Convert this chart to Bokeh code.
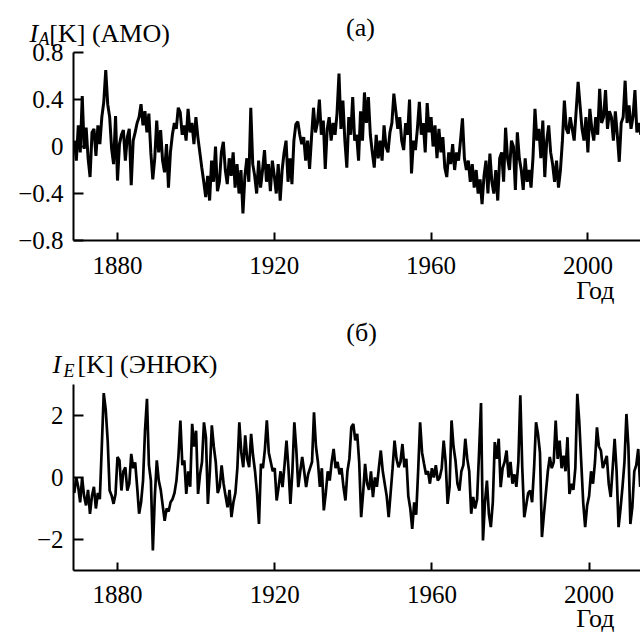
from bokeh.plotting import figure
from bokeh.layouts import column
from bokeh.models import Range1d, FixedTicker, CustomJSTickFormatter, Label, LinearAxis
from bokeh.embed import file_html
from bokeh.resources import INLINE

# ---------------- data (half-year samples) ----------------
start_year = 1869.0
step = 0.5

amo = [
    0.05, -0.12, 0.18, -0.05, 0.43, -0.02, 0.16, -0.10, -0.26, 0.12,      # 1869-1873
    0.15, -0.08, 0.18, 0.02, 0.25, 0.38, 0.65, 0.36, 0.25, -0.02,         # 1874-1878
    -0.15, 0.26, -0.29, 0.02, 0.10, 0.14, -0.12, 0.08, 0.15, -0.33,       # 1879-1883
    0.05, 0.12, 0.20, 0.25, 0.36, 0.18, 0.30, 0.12, 0.28, -0.05,          # 1884-1888
    -0.28, -0.10, 0.22, -0.05, 0.14, -0.12, -0.22, 0.02, -0.35, -0.05,    # 1889-1893
    0.10, 0.20, 0.15, 0.33, 0.29, 0.10, 0.18, 0.05, 0.32, 0.12,           # 1894-1898
    0.20, 0.02, 0.25, 0.08, -0.05, -0.18, -0.30, -0.43, -0.25, -0.46,     # 1899-1903
    -0.12, -0.30, 0.00, -0.38, -0.30, -0.05, 0.04, -0.20, -0.32, -0.10,   # 1904-1908
    -0.25, -0.05, -0.35, -0.15, -0.40, -0.20, -0.57, -0.25, -0.10, -0.30, # 1909-1913
    0.33, -0.15, -0.25, -0.40, -0.12, -0.35, -0.20, -0.03, -0.30, -0.15,  # 1914-1918
    -0.38, -0.12, -0.25, -0.40, -0.15, -0.46, -0.20, -0.05, 0.05, -0.30,  # 1919-1923
    -0.10, -0.32, 0.05, 0.19, 0.21, 0.10, 0.02, 0.08, -0.12, 0.05,        # 1924-1928
    -0.19, 0.08, 0.33, 0.12, 0.20, 0.40, 0.10, 0.22, -0.19, 0.15,         # 1929-1933
    0.25, 0.05, 0.20, 0.10, 0.28, 0.62, 0.15, 0.39, 0.05, -0.18,          # 1934-1938
    0.25, 0.10, 0.42, 0.05, 0.10, -0.12, 0.30, 0.05, 0.46, 0.20,          # 1939-1943
    0.42, 0.10, -0.05, -0.18, 0.10, -0.10, 0.05, -0.12, 0.18, 0.00,       # 1944-1948
    -0.05, 0.12, 0.20, 0.45, 0.30, 0.15, 0.25, 0.05, -0.03, 0.20,         # 1949-1953
    0.10, 0.40, -0.23, 0.05, -0.03, 0.15, 0.38, 0.10, 0.20, -0.05,        # 1954-1958
    0.37, 0.12, 0.25, 0.00, 0.18, -0.10, 0.15, -0.05, 0.08, -0.18,        # 1959-1963
    -0.26, -0.05, -0.15, 0.02, -0.20, -0.05, -0.12, 0.05, 0.24, -0.10,    # 1964-1968
    -0.20, -0.12, -0.30, -0.15, -0.35, -0.20, -0.40, -0.28, -0.49, -0.25, # 1969-1973
    -0.12, -0.40, -0.06, -0.30, -0.40, -0.20, -0.46, -0.10, -0.05, -0.30, # 1974-1978
    0.16, -0.10, -0.20, 0.05, 0.00, -0.37, 0.12, -0.10, -0.20, -0.37,     # 1979-1983
    -0.10, -0.30, -0.20, -0.35, -0.09, 0.32, 0.05, 0.15, -0.10, 0.22,     # 1984-1988
    -0.26, 0.05, 0.18, -0.05, -0.15, -0.30, -0.12, -0.35, -0.20, 0.05,    # 1989-1993
    0.39, 0.15, 0.11, 0.25, 0.15, 0.05, 0.30, 0.55, 0.35, 0.15,           # 1994-1998
    0.05, 0.25, -0.05, 0.32, 0.15, 0.05, 0.25, 0.10, 0.49, 0.20,          # 1999-2003
    0.25, 0.48, 0.15, 0.30, 0.25, 0.05, 0.30, 0.10, -0.13, 0.20,          # 2004-2008
    0.25, 0.56, 0.20, 0.35, 0.15, 0.25, 0.48, 0.12, 0.20, 0.10,           # 2009-2013
]

enso = [
    -0.50, 0.00, -0.30, -0.80, 0.00, -0.60, -0.90, -0.40, -1.17, -0.60,   # 1869-1873
    -0.30, -1.00, -0.50, -0.70, 0.98, 2.72, 2.20, 1.20, -0.42, -0.58,     # 1874-1878
    -0.85, -0.53, 0.66, 0.55, -0.42, 0.20, 0.33, -0.42, -0.20, 0.76,      # 1879-1883
    0.30, 0.49, -0.30, -1.17, -0.80, -0.10, 1.51, 2.54, 0.40, -0.10,      # 1884-1888
    -2.35, -0.60, 0.55, -0.10, -0.40, -0.90, -1.40, -1.00, -1.10, -0.80,  # 1889-1893
    -0.70, -0.50, -0.10, 0.66, 1.84, 0.40, 0.55, -0.53, 0.20, -0.30,      # 1894-1898
    1.73, 1.00, 1.51, -0.53, 0.10, 0.50, 1.78, 1.30, -0.85, 0.20,         # 1899-1903
    1.68, 1.00, 0.50, -0.50, -0.30, 0.39, -0.20, -0.60, -0.96, -0.40,     # 1904-1908
    -1.28, -0.80, -0.50, 0.30, 1.78, 0.80, 0.33, 1.36, 0.60, 0.33,        # 1909-1913
    1.41, 0.70, 0.20, -0.50, -1.50, 0.44, 0.30, 0.90, 1.84, 0.80,         # 1914-1918
    0.50, 0.20, 0.30, -0.74, -0.30, 0.20, -0.31, 0.40, 1.19, 0.30,        # 1919-1923
    -0.85, 0.20, 1.78, 0.90, -0.31, 0.20, 0.66, 0.20, -0.31, 0.10,        # 1924-1928
    0.30, 0.50, 2.10, 1.00, 0.50, -0.30, 0.30, -1.06, -0.50, 0.20,        # 1929-1933
    -0.10, 0.50, 0.92, 0.30, 0.50, 0.10, 0.30, -0.30, -0.74, 0.20,        # 1934-1938
    0.60, 1.62, 1.73, 1.20, 1.41, 0.50, -1.28, -0.50, 0.44, -0.20,        # 1939-1943
    -0.40, 0.20, -0.63, 0.00, -0.30, 0.30, 0.87, 0.20, -0.20, -0.60,      # 1944-1948
    -1.28, -0.50, 0.30, 1.19, 0.60, 0.33, 0.50, 1.08, 0.33, 0.60,         # 1949-1953
    -0.60, -1.00, -1.66, -0.80, -1.20, 0.20, 1.78, 0.80, 0.44, 0.10,      # 1954-1958
    0.20, -0.20, 0.30, 0.00, 0.40, -0.10, 0.00, 0.30, 1.19, 0.50,         # 1959-1963
    -0.85, -0.30, 1.84, 1.00, 0.55, -0.20, -0.42, 0.20, 0.40, 1.25,       # 1964-1968
    0.60, 0.20, -1.17, -0.63, -1.00, -0.70, 0.80, 2.40, -2.03, -0.80,     # 1969-1973
    -0.10, -1.17, -1.60, -0.80, 1.14, 0.60, 1.25, -0.31, 0.30, 0.50,      # 1974-1978
    0.87, 0.00, 0.50, -0.20, 0.10, -0.30, 0.50, 2.65, 0.30, -1.28,        # 1979-1983
    -0.90, -0.50, -0.42, -0.80, 0.30, 1.78, 1.40, 0.80, -1.92, -1.20,     # 1984-1988
    -0.50, 0.20, 0.66, 0.30, 0.50, 1.84, 0.60, 1.19, 0.30, 0.70,          # 1989-1993
    0.20, 1.30, -0.53, -0.20, -0.40, 0.30, 2.70, 1.80, 0.50, -0.80,       # 1994-1998
    -1.60, -0.90, -0.60, 0.20, -0.20, 0.50, 1.62, 1.00, 0.87, 0.30,       # 1999-2003
    0.50, 0.70, -0.20, -0.63, 0.30, 1.25, 0.20, -1.60, -1.00, -0.30,      # 2004-2008
    0.50, 2.05, 1.00, -1.50, -0.96, 0.20, 0.40, 0.92, -0.30, 0.20,        # 2009-2013
]

years_amo = [start_year + step * i for i in range(len(amo))]
years_enso = [start_year + step * i for i in range(len(enso))]

x_ticks = [1880, 1920, 1960, 2000]
amo_ticks = [-0.8, -0.4, 0, 0.4, 0.8]
enso_ticks = [-2, 0, 2]

FONT = "Liberation Serif"
TICK_SIZE = "25px"
LABEL_SIZE = "26px"

fmt1 = CustomJSTickFormatter(code="""
const a = Math.abs(tick);
if (a < 1e-9) return "0";
return (tick < 0 ? "\\u2212" : "") + a.toFixed(1);
""")
fmt0 = CustomJSTickFormatter(code="""
const a = Math.abs(tick);
if (a < 1e-9) return "0";
return (tick < 0 ? "\\u2212" : "") + a.toFixed(0);
""")


def make_fig(height, xr, yr, x0, x1, y0, y1, yticks, yfmt):
    p = figure(width=640, height=height, output_backend="svg", toolbar_location=None,
               x_range=Range1d(*xr), y_range=Range1d(*yr),
               x_axis_location=None, y_axis_location=None)
    p.min_border_left = 0
    p.min_border_right = 0
    p.min_border_top = 0
    p.min_border_bottom = 0
    p.outline_line_color = None
    p.background_fill_color = "white"
    p.border_fill_color = "white"
    p.xgrid.visible = False
    p.ygrid.visible = False

    xa = LinearAxis(fixed_location=y0, bounds=(x0, x1), ticker=FixedTicker(ticks=x_ticks))
    ya = LinearAxis(fixed_location=x0, bounds=(y0, y1), ticker=FixedTicker(ticks=yticks),
                    formatter=yfmt)
    for ax in (xa, ya):
        ax.axis_line_width = 2
        ax.axis_line_color = "black"
        ax.major_tick_line_width = 2
        ax.major_tick_line_color = "black"
        ax.major_tick_out = 0
        ax.minor_tick_line_color = None
        ax.major_label_text_font = FONT
        ax.major_label_text_font_size = TICK_SIZE
        ax.major_label_text_color = "black"
    xa.major_tick_in = 8
    xa.major_label_standoff = 16
    ya.major_tick_in = 10
    ya.major_label_standoff = 10
    p.add_layout(xa, "below")
    p.add_layout(ya, "left")
    return p


def lab(p, x, y, text, size=LABEL_SIZE, style="normal", align="left", baseline="alphabetic"):
    p.add_layout(Label(x=x, y=y, text=text, text_font=FONT, text_font_size=size,
                       text_font_style=style, text_align=align, text_baseline=baseline,
                       text_color="black"))


# ---------------- panel (a) ----------------
p1 = make_fig(305, (1850.15, 2013.42), (-1.3532, 1.2426), 1868.8, 2013.42, -0.8, 0.8,
              amo_ticks, fmt1)
p1.line(years_amo, amo, line_color="black", line_width=3.0)
lab(p1, 1857.55, 0.962, "I", style="italic")
lab(p1, 1859.85, 0.919, "A", size="18px", style="italic")
lab(p1, 1862.6, 0.962, "[K] (AMO)")
lab(p1, 1942.0, 1.013, "(a)", align="center", baseline="middle")
lab(p1, 2001.9, -1.226, "Год", align="center", baseline="middle")

# ---------------- panel (б) ----------------
p2 = make_fig(327, (1850.23, 2013.08), (-5.0, 5.548), 1868.8, 2013.08, -3.0, 3.0,
              enso_ticks, fmt0)
p2.line(years_enso, enso, line_color="black", line_width=2.7)
lab(p2, 1863.46, 3.645, "I", style="italic")
lab(p2, 1866.26, 3.45, "E", size="18px", style="italic")
lab(p2, 1869.82, 3.645, "[K] (ЭНЮК)")
lab(p2, 1942.1, 4.68, "(б)", align="center", baseline="middle")
lab(p2, 2001.6, -4.55, "Год", align="center", baseline="middle")

layout = column(p1, p2, spacing=0)
open("out.html", "w").write(file_html(layout, INLINE))
